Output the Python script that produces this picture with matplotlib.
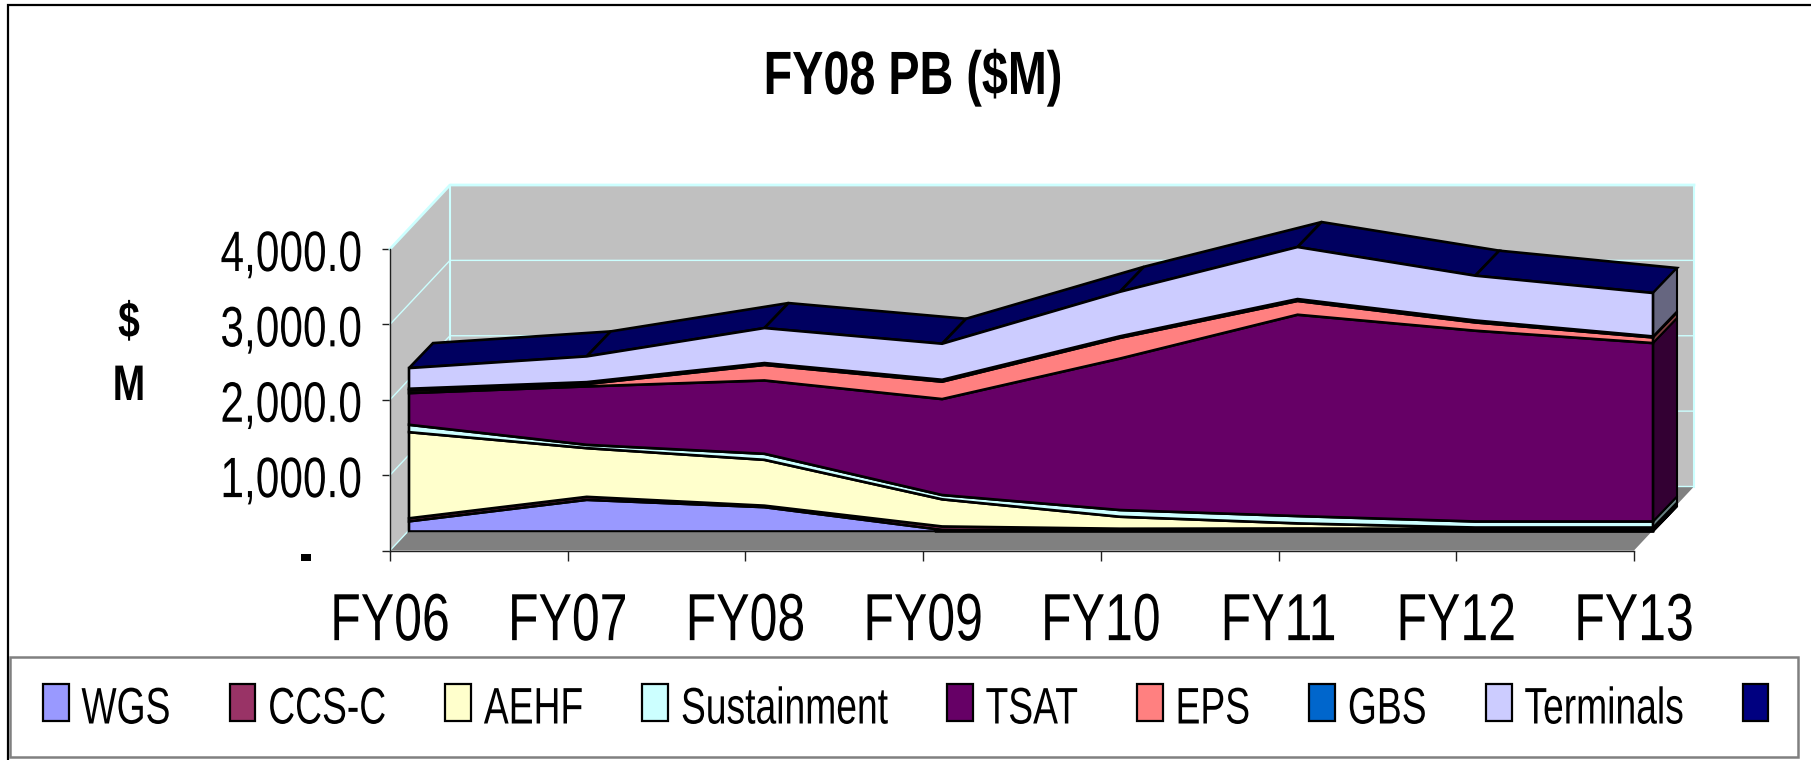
import numpy as np
import matplotlib
matplotlib.use("Agg")
import matplotlib.pyplot as plt
from matplotlib.patches import Polygon, Patch, Rectangle
from matplotlib.patheffects import AbstractPathEffect
from matplotlib.legend_handler import HandlerPatch
from matplotlib.transforms import Affine2D, IdentityTransform, Bbox

years = ["FY06", "FY07", "FY08", "FY09", "FY10", "FY11", "FY12", "FY13"]
series_names = ["WGS", "CCS-C", "AEHF", "Sustainment", "TSAT", "EPS", "GBS", "Terminals", ""]
wgs = [135, 420, 323, 22, 15, 15, 10, 10]
ccs = [40, 40, 20, 45, 22, 25, 25, 25]
aehf = [1143, 646, 608, 360, 159, 68, 18, 18]
sustainment = [98, 44, 80, 57, 89, 97, 80, 80]
tsat = [420, 775, 973, 1273, 2009, 2671, 2531, 2367]
eps = [36, 32, 206, 231, 275, 183, 110, 75]
gbs = [22, 25, 25, 25, 21, 25, 26, 13]
terminals = [274, 341, 464, 478, 590, 690, 594, 576]
unnamed = [0, 0, 0, 0, 0, 0, 0, 0]
colors = ["#9999FF", "#993366", "#FFFFCC", "#CCFFFF", "#660066", "#FF8080", "#0066CC", "#CCCCFF", "#000080"]
side_colors = ["#4C4C80", "#4C1933", "#808066", "#668080", "#330033", "#804040", "#003366", "#666680", "#000040"]
top_face = "#000060"
y_ticks = [0, 1000, 2000, 3000, 4000]
y_labels = ["-", "1,000.0", "2,000.0", "3,000.0", "4,000.0"]

W, H = 1811, 760
plt.rcParams["font.family"] = ["Liberation Sans"]


class Squeeze(AbstractPathEffect):
    """Draws a real text artist condensed horizontally about one of its edges."""

    def __init__(self, text, sx, anchor="center", dx=0, dy=0):
        super().__init__()
        self.text, self.sx, self.anchor, self.dx, self.dy = text, sx, anchor, dx, dy

    def draw_path(self, renderer, gc, tpath, affine, rgbFace=None):
        bb = self.text.get_window_extent(renderer)
        cx = {"left": bb.x0, "center": 0.5 * (bb.x0 + bb.x1), "right": bb.x1}[self.anchor]
        aff = affine + Affine2D().translate(-cx, 0).scale(self.sx, 1).translate(cx + self.dx, self.dy)
        renderer.draw_path(gc, tpath, aff, rgbFace)


def squeeze(text, sx, anchor="center", dx=0, dy=0):
    text.set_path_effects([Squeeze(text, sx, anchor, dx, dy)])


fig = plt.figure(figsize=(W / 100, H / 100), dpi=100, facecolor="white")
fig.add_artist(Rectangle((8 / W, 1 - 800 / H), (W + 20) / W, 795 / H, transform=fig.transFigure,
                         fc="white", ec="black", lw=1.6, zorder=-5))

L, R, B, T = 390, 1634, 550.5, 249
ax = fig.add_axes([L / W, 1 - B / H, (R - L) / W, (B - T) / H])
ax.patch.set_visible(False)
ax.set_xlim(0, 7)
ax.set_ylim(0, 4000)
for s in ("top", "right"):
    ax.spines[s].set_visible(False)
for s in ("left", "bottom"):
    ax.spines[s].set_color("#202020")
    ax.spines[s].set_linewidth(1.0)
    ax.spines[s].set_zorder(20)

DX, DY = 60, 64           # wall depth in pixels
FX, FY = 19, 19           # front plane of the areas
BX, BY = 43, 44           # back plane of the areas
front = ax.transData + Affine2D().translate(FX, FY)
back = ax.transData + Affine2D().translate(BX, BY)
wall = ax.transData + Affine2D().translate(DX, DY)
grid_c = "#CCFFFF"


def pts(tr, xy):
    return tr.transform(np.asarray(xy, dtype=float))


def poly(xy_disp, **kw):
    p = Polygon(xy_disp, closed=True, transform=IdentityTransform(), clip_on=False, **kw)
    ax.add_artist(p)
    return p


# Walls and floor
poly(pts(wall, [(0, 0), (7, 0), (7, 4000), (0, 4000)]), fc="#C0C0C0", ec="none", zorder=1)
poly(np.vstack([pts(ax.transData, [(0, 0), (0, 4000)]), pts(wall, [(0, 4000), (0, 0)])]),
     fc="#C0C0C0", ec="none", zorder=1)
poly(np.vstack([pts(ax.transData, [(0, 0), (7, 0)]), pts(wall, [(7, 0), (0, 0)])]),
     fc="#808080", ec="none", zorder=1)
for v in y_ticks:
    a = pts(ax.transData, [(0, v)])[0]
    b = pts(wall, [(0, v)])[0]
    c = pts(wall, [(7, v)])[0]
    lw = 2.0 if v == 4000 else 1.0
    ax.add_artist(plt.Line2D([a[0], b[0], c[0]], [a[1], b[1], c[1]], color=grid_c, lw=lw,
                             transform=IdentityTransform(), zorder=2, clip_on=False))
for xv in (0, 7):
    e0 = pts(wall, [(xv, 0)])[0]
    e1 = pts(wall, [(xv, 4000)])[0]
    ax.add_artist(plt.Line2D([e0[0], e1[0]], [e0[1], e1[1]], color=grid_c, lw=1.5,
                             transform=IdentityTransform(), zorder=2, clip_on=False))

# Stacked layers
layers = [wgs, ccs, aehf, sustainment, tsat, eps, gbs, terminals, unnamed]
cum = np.cumsum(np.array(layers, dtype=float), axis=0)
lows = np.vstack([np.zeros(8), cum[:-1]])
x = np.arange(8)
edge = dict(ec="black", lw=1.9, joinstyle="miter")

# top face, one panel per segment
top = cum[-1]
for i in range(7):
    q = [(x[i], top[i]), (x[i + 1], top[i + 1])]
    poly(np.vstack([pts(front, q), pts(back, q[::-1])]), fc=top_face, zorder=3, **edge)

# right side faces
for k in range(len(layers) - 1):
    q = [(7, lows[k][-1]), (7, cum[k][-1])]
    if cum[k][-1] - lows[k][-1] <= 0:
        continue
    poly(np.vstack([pts(front, q), pts(back, q[::-1])]), fc=side_colors[k], zorder=3, ec="black", lw=1.5)

# front faces
handles = []
for k, name in enumerate(series_names):
    if name:
        pg = np.vstack([np.column_stack([x, cum[k]]), np.column_stack([x[::-1], lows[k][::-1]])])
        poly(pts(front, pg), fc=colors[k], zorder=4, **edge)
    handles.append(Patch(fc=colors[k], ec="black", lw=1.6, label=name))
# the front base of the areas has no border on the floor side
base = pts(front, [(0, 0), (2.95, 0)])
ax.add_artist(plt.Line2D(base[:, 0], base[:, 1] - 1.2, color="#808080", lw=1.8,
                         transform=IdentityTransform(), zorder=5, clip_on=False))

# Axes text
ax.set_xticks(x)
ax.set_xticklabels(years, fontsize=48)
ax.set_yticks(y_ticks)
ax.set_yticklabels(y_labels, fontsize=41)
ax.tick_params(axis="x", length=7, width=1, color="#202020", pad=23)
ax.tick_params(axis="y", length=6, width=1, color="#202020", pad=14)
for lab in ax.get_xticklabels():
    squeeze(lab, 0.75, "center")
for i, lab in enumerate(ax.get_yticklabels()):
    lab.set_verticalalignment("center")
    squeeze(lab, 0.745, "right", dx=-49 if i == 0 else 0, dy=-7)
ax.yaxis.get_major_ticks()[0].label1.set_fontweight("bold")

t = fig.text(913 / W, 1 - 78 / H, "FY08 PB (\\$M)", fontsize=44, fontweight="bold", ha="center", va="center")
squeeze(t, 0.765)
t = fig.text(129 / W, 1 - 324 / H, "\\$", fontsize=36, fontweight="bold", ha="center", va="center")
squeeze(t, 0.78)
t = fig.text(129 / W, 1 - 387 / H, "M", fontsize=36, fontweight="bold", ha="center", va="center")
squeeze(t, 0.78)

LEG_SX = 0.725
leg = fig.legend(handles=handles, ncols=9, loc="center",
                 bbox_to_anchor=(10 / W, 1 - 757 / H, 1788 / W, 100 / H), mode="expand",
                 fontsize=37, frameon=True, fancybox=False, edgecolor="#808080",
                 framealpha=1, borderpad=0.5, borderaxespad=0, handlelength=0.64,
                 handleheight=0.72, handletextpad=0.25, columnspacing=1.0,
                 handler_map={Patch: HandlerPatch(xpad=0.14)})
leg.get_frame().set_linewidth(1.8)
for column in leg._legend_handle_box.get_children():
    for row in column.get_children():
        area = row.get_children()[1]
        squeeze(area._text, LEG_SX, "left", dy=-3)
        orig = area.get_bbox
        extra = -9 if not area._text.get_text() else 0

        def narrowed(renderer, orig=orig, extra=extra):
            b = orig(renderer)
            return Bbox.from_extents(b.x0, b.y0, b.x0 + b.width * LEG_SX + extra, b.y1)
        area.get_bbox = narrowed

fig.savefig("out.png", dpi=100, facecolor="white")
